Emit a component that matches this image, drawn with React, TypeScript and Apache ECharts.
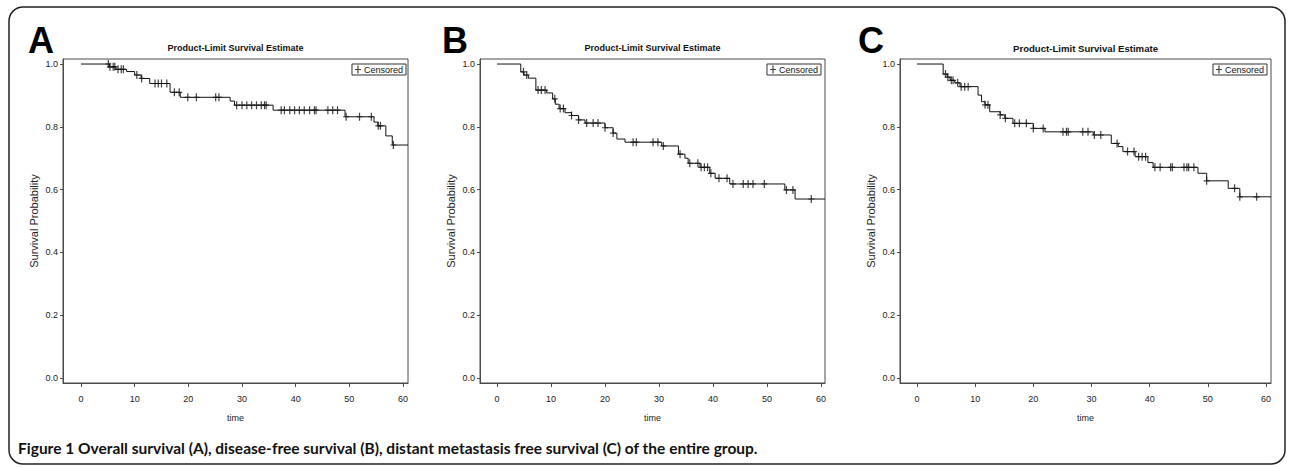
import React, { useEffect, useRef } from "react";
import * as echarts from "echarts";

// ---- Data ----
const xTickValues = [0, 10, 20, 30, 40, 50, 60];
const yTickValues = [0, 0.2, 0.4, 0.6, 0.8, 1.0];

const panelLetters = ["A", "B", "C"];
const panelTitle = "Product-Limit Survival Estimate";
const xAxisTitle = "time";
const yAxisTitle = "Survival Probability";
const legendLabel = "Censored";
const captionText =
  "Figure 1 Overall survival (A), disease-free survival (B), distant metastasis free survival (C) of the entire group.";

// A: overall survival
const stepTimesA = [0, 5.3, 6.5, 8.5, 10.0, 11.2, 12.8, 16.6, 18.5, 27.8, 28.6, 35.8, 49.2, 54.6, 55.3, 56.8, 58.0];
const survivalA = [1.0, 0.991, 0.983, 0.976, 0.965, 0.954, 0.938, 0.91, 0.894, 0.882, 0.869, 0.853, 0.832, 0.815, 0.803, 0.771, 0.742];
const censorTimesA = [5.1, 5.4, 6.0, 6.3, 6.9, 7.5, 7.9, 10.4, 11.3, 13.8, 14.4, 15.0, 16.0, 17.4, 18.3, 19.9, 21.5, 25.1, 25.7,
  29.0, 30.0, 30.9, 31.8, 32.7, 33.6, 34.2, 34.5, 37.3, 37.9, 38.9, 39.8, 40.7, 41.6, 42.6, 43.5, 43.8, 46.0, 46.9, 47.8,
  49.4, 51.9, 54.1, 55.4, 55.8, 58.2];

// B: disease-free survival
const stepTimesB = [0, 4.4, 5.0, 5.8, 7.2, 9.2, 10.3, 10.8, 11.5, 12.6, 13.8, 15.1, 16.3, 20.0, 21.5, 22.2, 23.7, 30.5, 33.6,
  34.8, 35.4, 37.6, 39.4, 40.4, 43.1, 53.3, 55.2];
const survivalB = [1.0, 0.975, 0.965, 0.955, 0.917, 0.908, 0.889, 0.872, 0.858, 0.845, 0.836, 0.822, 0.812, 0.797, 0.78, 0.761,
  0.751, 0.739, 0.713, 0.7, 0.684, 0.671, 0.652, 0.636, 0.618, 0.599, 0.57];
const censorTimesB = [4.9, 5.5, 7.6, 8.2, 8.9, 10.7, 11.7, 12.3, 13.8, 15.1, 16.6, 17.8, 18.7, 20.0, 21.5, 25.2, 25.8, 28.9, 29.8,
  30.8, 33.9, 35.7, 37.2, 37.8, 38.4, 39.0, 39.6, 41.1, 42.6, 43.7, 45.6, 46.5, 47.4, 49.5, 53.6, 54.8, 58.2];

// C: distant metastasis free survival
const stepTimesC = [0, 4.5, 5.2, 5.7, 6.5, 7.4, 10.5, 11.1, 11.7, 12.5, 14.3, 15.1, 16.5, 20.0, 22.0, 30.3, 33.4, 34.6, 35.4,
  37.5, 39.7, 40.6, 48.3, 49.8, 53.5, 55.5];
const survivalC = [1.0, 0.968, 0.958, 0.948, 0.94, 0.928, 0.901, 0.88, 0.87, 0.848, 0.838, 0.827, 0.811, 0.795, 0.784, 0.774,
  0.747, 0.737, 0.721, 0.705, 0.686, 0.671, 0.652, 0.628, 0.604, 0.577];
const censorTimesC = [4.9, 5.3, 5.9, 6.2, 7.0, 7.6, 8.2, 8.8, 11.7, 12.2, 14.3, 15.2, 16.8, 17.6, 18.8, 20.0, 21.7, 25.1, 25.7,
  26.0, 28.5, 29.4, 30.5, 31.6, 34.4, 36.2, 37.3, 38.1, 38.7, 39.3, 40.9, 41.8, 43.6, 43.9, 45.9, 46.4, 46.7, 47.6, 49.8,
  54.6, 55.5, 58.4];

// ---- Layout ----
const layouts = [
  { left: 63, width: 345, xMin: -3.35, xMax: 60.93, legendRight: 884, letterX: 28, titleSize: 9 },
  { left: 480, width: 345, xMin: -3.15, xMax: 60.74, legendRight: 469, letterX: 442, titleSize: 9 },
  { left: 900, width: 371, xMin: -2.92, xMax: 60.86, legendRight: 23, letterX: 858, titleSize: 9.6 },
];
const gridTop = 59;
const gridHeight = 324;

const plusPath = "path://M-0.6,-4H0.6V-0.6H3V0.6H0.6V4H-0.6V0.6H-3V-0.6H-0.6Z";
const smallFont = '"Liberation Sans Narrow", "Arial Narrow", "Liberation Sans", sans-serif';

function survivalAt(times: number[], vals: number[], t: number): number {
  let v = vals[0];
  for (let i = 0; i < times.length; i++) {
    if (times[i] <= t) v = vals[i];
  }
  return v;
}

export default function App() {
  const ref = useRef<HTMLDivElement>(null);

  useEffect(() => {
    if (!ref.current) return;
    const chart = echarts.init(ref.current, undefined, { renderer: "svg" });

    const datasets = [
      { steps: stepTimesA, surv: survivalA, cens: censorTimesA },
      { steps: stepTimesB, surv: survivalB, cens: censorTimesB },
      { steps: stepTimesC, surv: survivalC, cens: censorTimesC },
    ];

    const grid: any[] = [];
    const xAxis: any[] = [];
    const yAxis: any[] = [];
    const series: any[] = [];
    const legend: any[] = [];
    const graphic: any[] = [];

    datasets.forEach((d, i) => {
      const L = layouts[i];
      grid.push({
        left: L.left,
        top: gridTop,
        width: L.width,
        height: gridHeight,
        show: true,
        borderColor: "#4a4a4a",
        borderWidth: 1,
        backgroundColor: "transparent",
      });
      xAxis.push({
        gridIndex: i,
        type: "value",
        min: L.xMin,
        max: L.xMax,
        name: xAxisTitle,
        nameLocation: "middle",
        nameGap: 30,
        nameTextStyle: { fontSize: 9, color: "#222", fontFamily: smallFont },
        axisLine: { show: true, onZero: false, lineStyle: { color: "#4a4a4a", width: 1 } },
        axisTick: { show: true, customValues: xTickValues, length: 4, inside: false, lineStyle: { color: "#4a4a4a" } },
        axisLabel: {
          customValues: xTickValues,
          fontSize: 9,
          color: "#222",
          margin: 11,
          fontFamily: smallFont,
        },
        splitLine: { show: false },
      });
      yAxis.push({
        gridIndex: i,
        type: "value",
        min: -0.016,
        max: 1.016,
        name: yAxisTitle,
        nameLocation: "middle",
        nameGap: 24,
        nameTextStyle: { fontSize: 11, color: "#222", fontFamily: '"Liberation Sans", sans-serif' },
        axisLine: { show: true, onZero: false, lineStyle: { color: "#4a4a4a", width: 1 } },
        axisTick: { show: true, customValues: yTickValues, length: 3, inside: false, lineStyle: { color: "#4a4a4a" } },
        axisLabel: {
          customValues: yTickValues,
          fontSize: 9,
          color: "#222",
          margin: 5,
          fontFamily: smallFont,
          formatter: (v: number) => v.toFixed(1),
        },
        splitLine: { show: false },
      });

      const lineData = d.steps.map((t, k) => [t, d.surv[k]]);
      lineData.push([L.xMax, d.surv[d.surv.length - 1]]);
      series.push({
        type: "line",
        name: "Survival",
        xAxisIndex: i,
        yAxisIndex: i,
        step: "end",
        data: lineData,
        showSymbol: false,
        symbol: "none",
        lineStyle: { color: "#111", width: 1 },
        z: 2,
      });
      series.push({
        type: "scatter",
        name: legendLabel,
        xAxisIndex: i,
        yAxisIndex: i,
        data: d.cens.map((t) => [t, survivalAt(d.steps, d.surv, t)]),
        symbol: plusPath,
        symbolSize: [6, 8],
        itemStyle: { color: "#111" },
        z: 3,
      });
      legend.push({
        data: [{ name: legendLabel, icon: plusPath }],
        right: L.legendRight,
        top: 64,
        orient: "horizontal",
        itemWidth: 6,
        itemHeight: 8,
        padding: [1, 3, 1, 3],
        borderColor: "#333",
        borderWidth: 1,
        selectedMode: false,
        textStyle: { fontSize: 9, color: "#111", fontFamily: smallFont, padding: [0, 0, 0, -2] },
      });

      graphic.push({
        type: "text",
        left: L.letterX,
        top: 22,
        style: {
          text: panelLetters[i],
          font: 'bold 36px "Liberation Sans", Arial, sans-serif',
          fill: "#000",
        },
      });
      graphic.push({
        type: "text",
        x: L.left + L.width / 2,
        y: 48,
        style: {
          text: panelTitle,
          font: `bold ${L.titleSize}px ${smallFont}`,
          fill: "#111",
          textAlign: "center",
          textVerticalAlign: "middle",
        },
      });
    });

    graphic.push({
      type: "rect",
      shape: { x: 9, y: 7, width: 1276, height: 457, r: 14 },
      style: { fill: "none", stroke: "#222", lineWidth: 1.5 },
      z: -1,
    });
    graphic.push({
      type: "text",
      x: 18,
      y: 448,
      style: {
        text: captionText,
        font: 'bold 15.5px Lato, "Open Sans", sans-serif',
        fill: "#111",
        textVerticalAlign: "middle",
      },
    });

    chart.setOption({
      animation: false,
      backgroundColor: "#fff",
      grid,
      xAxis,
      yAxis,
      series,
      legend,
      graphic,
    });

    return () => chart.dispose();
  }, []);

  return (
    <div
      ref={ref}
      style={{ position: "fixed", left: 0, top: 0, width: 1290, height: 467 }}
    />
  );
}
